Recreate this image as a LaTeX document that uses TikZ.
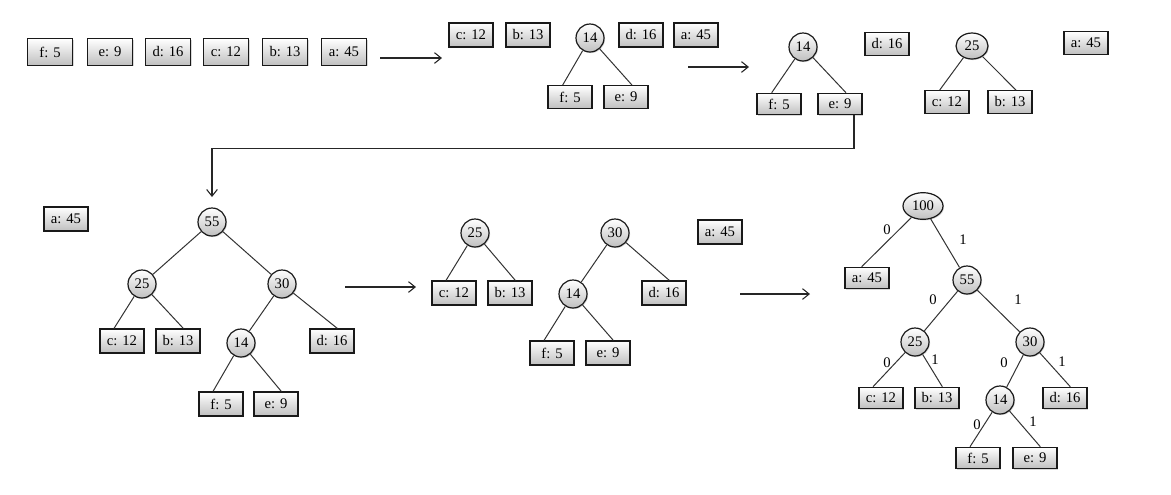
\documentclass[tikz,border=0pt]{standalone}
\usepackage{fontspec}
\setmainfont{Liberation Serif}
\usetikzlibrary{shapes.geometric,shadows,arrows.meta}
\begin{document}
\begin{tikzpicture}[x=0.75pt,y=-0.75pt,
  font=\fontsize{11}{13}\selectfont,
  base/.style={draw=black!90,line width=0.9pt,top color=white,bottom color=black!25,
     drop shadow={shadow xshift=0.8pt,shadow yshift=-0.8pt,opacity=0.3},text=black,inner sep=0pt},
  leaf/.style={base,rectangle,minimum width=33pt,minimum height=17pt},
  bigleaf/.style={base,rectangle,minimum width=33.75pt,minimum height=20pt},
  inner/.style={base,ellipse,minimum width=21pt,minimum height=21pt},
  edge/.style={draw=black!80,line width=0.75pt},
  flow/.style={draw=black!85,line width=0.8pt,-{Straight Barb[length=5pt,width=8pt]}},
  bit/.style={inner sep=0pt,text=black,font=\fontsize{11}{13}\selectfont}]
\useasboundingbox (0,0) rectangle (1171,494);
% ---------- stage 1
\node[bigleaf] (af) at (50,52) {f: 5};
\node[bigleaf] (ae) at (110,52) {e: 9};
\node[bigleaf] (ad) at (168,52) {d: 16};
\node[bigleaf] (ac) at (226,52) {c: 12};
\node[bigleaf] (ab) at (285,52) {b: 13};
\node[bigleaf] (aa) at (344,52) {a: 45};
\coordinate (a1s) at (380,58); \coordinate (a1e) at (442,58);
\draw[flow] (a1s) -- (a1e);
% ---------- stage 2
\node[leaf,minimum height=18pt] (bc) at (471,35) {c: 12};
\node[leaf,minimum height=18pt] (bb) at (528,35) {b: 13};
\node[inner] (b14) at (590,38) {14};
\node[leaf,minimum height=18pt] (bd) at (641,35) {d: 16};
\node[leaf,minimum height=18pt] (ba) at (696,35) {a: 45};
\node[leaf] (bf) at (570,97) {f: 5};
\node[leaf] (be) at (626,97) {e: 9};
\draw[edge] (b14) -- ([xshift=-5.5pt]bf.north);
\draw[edge] (b14) -- ([xshift=4.5pt]be.north);
\coordinate (a2s) at (688,67); \coordinate (a2e) at (749,67);
\draw[flow] (a2s) -- (a2e);
% ---------- stage 3
\node[inner] (c14) at (803,47) {14};
\node[leaf,minimum height=16pt] (cf) at (779,104) {f: 5};
\node[leaf,minimum height=16pt] (ce) at (840,104) {e: 9};
\draw[edge] (c14) -- ([xshift=-5.5pt]cf.north);
\draw[edge] (c14) -- ([xshift=4.5pt]ce.north);
\node[leaf] (cd) at (887,44) {d: 16};
\node[inner,minimum width=24pt,minimum height=19.5pt] (c25) at (972,46) {25};
\node[leaf] (cc) at (947,102) {c: 12};
\node[leaf] (cb) at (1010,102) {b: 13};
\draw[edge] (c25) -- ([xshift=-5.5pt]cc.north);
\draw[edge] (c25) -- ([xshift=4.5pt]cb.north);
\node[leaf] (ca) at (1086,43) {a: 45};
\coordinate (tip) at (212,197);
\draw[flow] ([xshift=10.5pt]ce.south) -- ++(0,33) -| (tip);
% ---------- stage 4
\node[leaf,minimum height=18pt] (da) at (66,219) {a: 45};
\node[inner] (d55) at (212,222) {55};
\node[inner] (d25) at (142,284) {25};
\node[inner] (d30) at (282,284) {30};
\node[leaf,minimum height=18pt] (dc) at (122,341) {c: 12};
\node[leaf,minimum height=18pt] (db) at (178,341) {b: 13};
\node[inner] (d14) at (241,343) {14};
\node[leaf,minimum height=18pt] (dd) at (332,341) {d: 16};
\node[leaf,minimum height=18pt] (df) at (221,404) {f: 5};
\node[leaf,minimum height=18pt] (de) at (276,404) {e: 9};
\draw[edge] (d55) -- (d25);
\draw[edge] (d55) -- (d30);
\draw[edge] (d25) -- ([xshift=-6pt]dc.north);
\draw[edge] (d25) -- ([xshift=4pt]db.north);
\draw[edge] (d30) -- (d14);
\draw[edge] (d30) -- ([xshift=4pt]dd.north);
\draw[edge] (d14) -- ([xshift=-6pt]df.north);
\draw[edge] (d14) -- ([xshift=4pt]de.north);
\coordinate (a3s) at (345,287); \coordinate (a3e) at (416,287);
\draw[flow] (a3s) -- (a3e);
% ---------- stage 5
\node[inner] (e25) at (475,233) {25};
\node[leaf,minimum height=18pt] (ec) at (454,293) {c: 12};
\node[leaf,minimum height=18pt] (eb) at (510,293) {b: 13};
\node[inner] (e30) at (615,233) {30};
\node[inner] (e14) at (573,294) {14};
\node[leaf,minimum height=18pt] (ed) at (664,293) {d: 16};
\node[leaf,minimum height=18pt] (ef) at (552,353) {f: 5};
\node[leaf,minimum height=18pt] (ee) at (608,353) {e: 9};
\node[leaf,minimum height=18pt] (ea) at (720,232) {a: 45};
\draw[edge] (e25) -- ([xshift=-6pt]ec.north);
\draw[edge] (e25) -- ([xshift=4pt]eb.north);
\draw[edge] (e30) -- (e14);
\draw[edge] (e30) -- ([xshift=4pt]ed.north);
\draw[edge] (e14) -- ([xshift=-6pt]ef.north);
\draw[edge] (e14) -- ([xshift=4pt]ee.north);
\coordinate (a4s) at (740,294); \coordinate (a4e) at (810,294);
\draw[flow] (a4s) -- (a4e);
% ---------- stage 6
\node[inner,minimum width=30pt,minimum height=20pt] (f100) at (923,206) {100};
\node[leaf,minimum height=16pt] (fa) at (867,278) {a: 45};
\node[inner] (f55) at (967,280) {55};
\node[inner] (f25) at (915,342) {25};
\node[inner] (f30) at (1030,342) {30};
\node[leaf,minimum height=16pt] (fc) at (881,398) {c: 12};
\node[leaf,minimum height=16pt] (fb) at (937,398) {b: 13};
\node[inner] (f14) at (1000,400) {14};
\node[leaf,minimum height=16pt] (fd) at (1065,398) {d: 16};
\node[leaf,minimum height=16pt] (ff) at (978,458) {f: 5};
\node[leaf,minimum height=16pt] (fe) at (1035,458) {e: 9};
\draw[edge] (f100) -- ([xshift=-4pt]fa.north);
\draw[edge] (f100) -- (f55);
\draw[edge] (f55) -- (f25);
\draw[edge] (f55) -- (f30);
\draw[edge] (f25) -- ([xshift=-6pt]fc.north);
\draw[edge] (f25) -- ([xshift=4pt]fb.north);
\draw[edge] (f30) -- (f14);
\draw[edge] (f30) -- ([xshift=4pt]fd.north);
\draw[edge] (f14) -- ([xshift=-6pt]ff.north);
\draw[edge] (f14) -- ([xshift=4pt]fe.north);
\node[bit] (l1) at (887,230) {0};
\node[bit] (l2) at (963,240) {1};
\node[bit] (l3) at (933,300) {0};
\node[bit] (l4) at (1018,300) {1};
\node[bit] (l5) at (887,363) {0};
\node[bit] (l6) at (935,360) {1};
\node[bit] (l7) at (1004,363) {0};
\node[bit] (l8) at (1062,362) {1};
\node[bit] (l9) at (977,425) {0};
\node[bit] (l10) at (1033,422) {1};
\end{tikzpicture}
\end{document}
